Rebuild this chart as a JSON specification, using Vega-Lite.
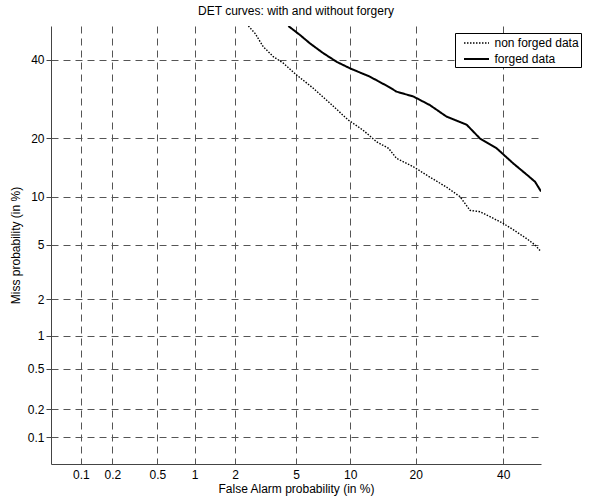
{
  "$schema": "https://vega.github.io/schema/vega-lite/v6.json",
  "width": 490,
  "height": 438,
  "autosize": {"type": "none"},
  "padding": {"left": 51, "top": 26, "right": 52, "bottom": 37},
  "background": "white",
  "title": {"text": "DET curves: with and without forgery", "fontSize": 12, "fontWeight": "normal", "font": "Liberation Sans", "color": "black", "anchor": "middle", "offset": 8},
  "config": {"view": {"stroke": null}, "font": "Liberation Sans"},
  "data": {"values": [
    {"series": "non forged data", "fa": 2.47, "miss": 50},
    {"series": "non forged data", "fa": 2.74, "miss": 47.8},
    {"series": "non forged data", "fa": 3.11, "miss": 43.8},
    {"series": "non forged data", "fa": 3.61, "miss": 40.9},
    {"series": "non forged data", "fa": 4.18, "miss": 39.0},
    {"series": "non forged data", "fa": 5.05, "miss": 35.6},
    {"series": "non forged data", "fa": 6.31, "miss": 32.0},
    {"series": "non forged data", "fa": 7.82, "miss": 28.1},
    {"series": "non forged data", "fa": 9.78, "miss": 24.0},
    {"series": "non forged data", "fa": 11.6, "miss": 21.7},
    {"series": "non forged data", "fa": 13.5, "miss": 19.2},
    {"series": "non forged data", "fa": 15.3, "miss": 17.9},
    {"series": "non forged data", "fa": 16.6, "miss": 16.0},
    {"series": "non forged data", "fa": 19.6, "miss": 14.5},
    {"series": "non forged data", "fa": 22.8, "miss": 12.8},
    {"series": "non forged data", "fa": 26.3, "miss": 11.3},
    {"series": "non forged data", "fa": 29.3, "miss": 10.0},
    {"series": "non forged data", "fa": 31.7, "miss": 8.3},
    {"series": "non forged data", "fa": 34.1, "miss": 8.15},
    {"series": "non forged data", "fa": 36.6, "miss": 7.6},
    {"series": "non forged data", "fa": 40.0, "miss": 6.9},
    {"series": "non forged data", "fa": 42.6, "miss": 6.3},
    {"series": "non forged data", "fa": 46.2, "miss": 5.5},
    {"series": "non forged data", "fa": 48.4, "miss": 5.0},
    {"series": "non forged data", "fa": 50.0, "miss": 4.5},
    {"series": "forged data", "fa": 4.49, "miss": 50},
    {"series": "forged data", "fa": 5.28, "miss": 47.3},
    {"series": "forged data", "fa": 6.04, "miss": 44.8},
    {"series": "forged data", "fa": 7.19, "miss": 41.9},
    {"series": "forged data", "fa": 8.5, "miss": 39.4},
    {"series": "forged data", "fa": 10.0, "miss": 37.5},
    {"series": "forged data", "fa": 12.5, "miss": 35.2},
    {"series": "forged data", "fa": 15.3, "miss": 32.4},
    {"series": "forged data", "fa": 16.6, "miss": 31.1},
    {"series": "forged data", "fa": 19.6, "miss": 29.8},
    {"series": "forged data", "fa": 22.8, "miss": 27.6},
    {"series": "forged data", "fa": 26.3, "miss": 24.8},
    {"series": "forged data", "fa": 30.9, "miss": 22.9},
    {"series": "forged data", "fa": 34.1, "miss": 19.9},
    {"series": "forged data", "fa": 38.3, "miss": 17.9},
    {"series": "forged data", "fa": 42.6, "miss": 15.1},
    {"series": "forged data", "fa": 46.2, "miss": 13.2},
    {"series": "forged data", "fa": 48.4, "miss": 12.1},
    {"series": "forged data", "fa": 50.0, "miss": 10.7}
  ]},
  "transform": [
    {"calculate": "quantileNormal(datum.fa / 100)", "as": "xz"},
    {"calculate": "quantileNormal(datum.miss / 100)", "as": "yz"}
  ],
  "mark": {"type": "line", "clip": true, "color": "black"},
  "encoding": {
    "x": {
      "field": "xz", "type": "quantitative",
      "scale": {"domain": [-3.290527, 0], "nice": false, "zero": false},
      "axis": {
        "values": [-3.090232, -2.878162, -2.575829, -2.326348, -2.053749, -1.644854, -1.281552, -0.841621, -0.253347],
        "labelExpr": "format(cumulativeNormal(datum.value) * 100, '.1~f')",
        "title": "False Alarm probability (in %)",
        "titleFontSize": 12, "titleFontWeight": "normal", "titleColor": "black", "titleFont": "Liberation Sans", "titlePadding": 3,
        "labelFontSize": 12, "labelColor": "black", "labelFont": "Liberation Sans", "labelPadding": 5,
        "ticks": false, "tickSize": 0,
        "domainColor": "#444", "domainWidth": 1,
        "grid": true, "gridColor": "#555", "gridDash": [7, 5], "gridWidth": 1, "gridOpacity": 1
      }
    },
    "y": {
      "field": "yz", "type": "quantitative",
      "scale": {"domain": [-3.290527, 0], "nice": false, "zero": false},
      "axis": {
        "values": [-3.090232, -2.878162, -2.575829, -2.326348, -2.053749, -1.644854, -1.281552, -0.841621, -0.253347],
        "labelExpr": "format(cumulativeNormal(datum.value) * 100, '.1~f')",
        "title": "Miss probability (in %)",
        "titleFontSize": 12, "titleFontWeight": "normal", "titleColor": "black", "titleFont": "Liberation Sans", "titlePadding": 5,
        "labelFontSize": 12, "labelColor": "black", "labelFont": "Liberation Sans", "labelPadding": 2,
        "ticks": true, "tickSize": 5, "tickColor": "#444",
        "domainColor": "#444", "domainWidth": 1,
        "grid": true, "gridColor": "#555", "gridDash": [7, 5], "gridWidth": 1, "gridOpacity": 1
      }
    },
    "strokeDash": {
      "field": "series", "type": "nominal",
      "scale": {"domain": ["non forged data", "forged data"], "range": [[1.5, 1.5], [1, 0]]},
      "legend": {
        "title": null, "orient": "none", "legendX": 404, "legendY": 7,
        "strokeColor": "black", "fillColor": "white", "padding": 2, "cornerRadius": 0,
        "symbolType": "M-1.786,0H1.786", "symbolSize": 196, "symbolOffset": 11.5,
        "symbolStrokeColor": "black", "symbolStrokeWidth": 1.5,
        "labelFontSize": 12, "labelFont": "Liberation Sans", "labelColor": "black", "labelOffset": 10,
        "rowPadding": 2
      }
    },
    "strokeWidth": {
      "field": "series", "type": "nominal",
      "scale": {"domain": ["non forged data", "forged data"], "range": [1.4, 2]},
      "legend": null
    }
  }
}
